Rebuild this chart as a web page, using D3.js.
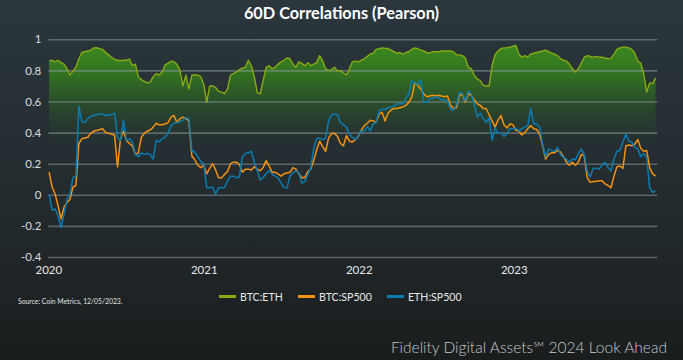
<!DOCTYPE html>
<html><head><meta charset="utf-8">
<script src="https://cdn.jsdelivr.net/npm/d3@7"></script>
<style>
html,body{margin:0;padding:0;background:#20272a;overflow:hidden;}
svg{display:block;}
</style></head><body>
<script>
// ---- data (weekly samples) ----
const startDate = "2020-01-03";
const stepDays = 7;
const domainStart = "2020-01-01";
const domainEnd = "2023-12-05";

const btcEth = [
0.86,0.865,0.855,0.865,0.85,0.84,0.81,0.77,0.795,0.82,
0.875,0.915,0.92,0.925,0.93,0.945,0.946,0.94,0.935,0.915,
0.90,0.885,0.87,0.865,0.862,0.866,0.865,0.873,0.83,0.84,
0.76,0.74,0.73,0.72,0.725,0.76,0.78,0.77,0.79,0.835,
0.845,0.86,0.855,0.84,0.80,0.70,0.77,0.68,0.77,0.77,
0.77,0.76,0.71,0.595,0.70,0.70,0.69,0.665,0.66,0.65,
0.68,0.77,0.78,0.79,0.805,0.815,0.82,0.865,0.83,0.76,
0.655,0.65,0.735,0.82,0.83,0.81,0.82,0.84,0.855,0.865,
0.88,0.875,0.84,0.82,0.855,0.845,0.83,0.85,0.83,0.84,
0.85,0.895,0.86,0.81,0.80,0.805,0.82,0.795,0.80,0.785,
0.77,0.81,0.855,0.86,0.855,0.865,0.875,0.89,0.905,0.91,
0.935,0.94,0.945,0.942,0.94,0.93,0.92,0.91,0.915,0.905,
0.915,0.92,0.935,0.945,0.94,0.93,0.925,0.915,0.91,0.92,
0.92,0.92,0.925,0.925,0.925,0.925,0.92,0.90,0.90,0.895,
0.88,0.82,0.81,0.77,0.745,0.735,0.705,0.70,0.70,0.83,
0.90,0.925,0.94,0.945,0.946,0.95,0.955,0.96,0.905,0.885,
0.895,0.885,0.905,0.91,0.915,0.92,0.925,0.93,0.92,0.91,
0.905,0.895,0.875,0.865,0.86,0.84,0.81,0.79,0.81,0.845,
0.885,0.895,0.89,0.885,0.89,0.885,0.885,0.88,0.875,0.877,
0.905,0.935,0.945,0.95,0.95,0.945,0.935,0.91,0.86,0.845,
0.78,0.66,0.72,0.715,0.75
];

const btcSp500 = [
0.145,0.05,0.005,-0.07,-0.155,-0.08,-0.05,-0.03,0.05,0.06,
0.33,0.36,0.365,0.37,0.395,0.41,0.413,0.42,0.425,0.40,
0.395,0.39,0.385,0.18,0.36,0.41,0.35,0.33,0.315,0.26,
0.27,0.37,0.395,0.41,0.417,0.435,0.46,0.45,0.45,0.455,
0.465,0.50,0.51,0.465,0.49,0.50,0.49,0.475,0.25,0.225,
0.19,0.175,0.19,0.135,0.17,0.20,0.16,0.11,0.11,0.13,
0.15,0.20,0.21,0.21,0.195,0.145,0.165,0.165,0.16,0.18,
0.165,0.155,0.175,0.22,0.185,0.145,0.145,0.135,0.12,0.135,
0.14,0.145,0.175,0.165,0.135,0.11,0.11,0.15,0.165,0.22,
0.29,0.345,0.31,0.28,0.365,0.395,0.395,0.375,0.33,0.315,
0.38,0.345,0.34,0.355,0.375,0.415,0.445,0.46,0.48,0.475,
0.465,0.52,0.53,0.475,0.525,0.545,0.555,0.555,0.56,0.565,
0.575,0.595,0.63,0.72,0.705,0.68,0.65,0.63,0.635,0.64,
0.635,0.64,0.635,0.63,0.635,0.575,0.555,0.56,0.64,0.645,
0.595,0.65,0.64,0.61,0.585,0.575,0.555,0.555,0.515,0.475,
0.435,0.48,0.51,0.45,0.43,0.455,0.45,0.415,0.41,0.385,
0.40,0.425,0.445,0.425,0.42,0.39,0.315,0.23,0.26,0.27,
0.27,0.285,0.275,0.245,0.21,0.19,0.21,0.19,0.21,0.26,
0.25,0.11,0.08,0.085,0.085,0.09,0.09,0.07,0.06,0.045,
0.12,0.18,0.185,0.17,0.315,0.32,0.315,0.325,0.355,0.30,
0.28,0.285,0.175,0.135,0.12
];

const ethSp500 = [
0.005,-0.10,-0.09,-0.135,-0.21,-0.125,-0.03,0.005,0.11,0.12,
0.57,0.47,0.465,0.49,0.505,0.51,0.515,0.52,0.52,0.51,
0.515,0.515,0.525,0.37,0.35,0.48,0.35,0.36,0.34,0.26,
0.245,0.27,0.26,0.265,0.26,0.23,0.35,0.34,0.36,0.37,
0.395,0.445,0.46,0.465,0.47,0.48,0.495,0.49,0.285,0.275,
0.245,0.215,0.20,0.045,0.045,0.05,0.005,0.045,0.045,0.047,
0.09,0.12,0.12,0.11,0.115,0.245,0.265,0.27,0.28,0.21,
0.155,0.095,0.11,0.135,0.155,0.135,0.12,0.11,0.075,0.047,
0.043,0.12,0.14,0.155,0.14,0.075,0.085,0.13,0.17,0.30,
0.36,0.365,0.355,0.365,0.475,0.515,0.52,0.515,0.465,0.45,
0.435,0.39,0.37,0.355,0.38,0.41,0.41,0.44,0.41,0.455,
0.465,0.54,0.55,0.55,0.56,0.565,0.57,0.585,0.585,0.585,
0.62,0.65,0.735,0.72,0.71,0.74,0.595,0.595,0.62,0.62,
0.63,0.625,0.61,0.61,0.605,0.55,0.545,0.575,0.66,0.655,
0.605,0.665,0.65,0.58,0.50,0.525,0.49,0.465,0.495,0.35,
0.43,0.395,0.40,0.375,0.395,0.425,0.425,0.43,0.41,0.425,
0.435,0.445,0.555,0.455,0.455,0.435,0.325,0.245,0.295,0.285,
0.28,0.305,0.26,0.24,0.23,0.21,0.23,0.225,0.265,0.295,
0.26,0.15,0.115,0.17,0.17,0.165,0.19,0.21,0.175,0.155,
0.23,0.28,0.285,0.34,0.39,0.345,0.34,0.305,0.295,0.245,
0.265,0.24,0.047,0.015,0.025
];

const seriesNames = ["BTC:ETH", "BTC:SP500", "ETH:SP500"];
const seriesColors = ["#88aa14", "#f5920f", "#0b7bb0"];
const yTicks = [-0.4, -0.2, 0, 0.2, 0.4, 0.6, 0.8, 1];
const yTickLabels = ["-0.4", "-0.2", "0", "0.2", "0.4", "0.6", "0.8", "1"];
const xTickDates = ["2020-01-01", "2021-01-01", "2022-01-01", "2023-01-01"];
const xTickLabels = ["2020", "2021", "2022", "2023"];
const titleText = "60D Correlations (Pearson)";
const sourceText = "Source: Coin Metrics, 12/05/2023.";
const footerText = "Fidelity Digital Assets\u2120 2024 Look Ahead";

// ---- drawing ----
const W = 683, H = 360;
const FONT = "Lato, 'Open Sans', 'DejaVu Sans', sans-serif";
const parse = d3.timeParse("%Y-%m-%d");
const t0 = parse(startDate);
const dates = btcEth.map((_, i) => d3.timeDay.offset(t0, i * stepDays));

const x = d3.scaleTime().domain([parse(domainStart), parse(domainEnd)]).range([48.3, 657.3]);
const y = d3.scaleLinear().domain([-0.4, 1]).range([257, 39.3]);

const svg = d3.select("body").append("svg").attr("width", W).attr("height", H);
const defs = svg.append("defs");

const bg = defs.append("linearGradient").attr("id", "bg").attr("x1", 0).attr("y1", 0).attr("x2", 0).attr("y2", 1);
bg.append("stop").attr("offset", 0).attr("stop-color", "#2b373d");
bg.append("stop").attr("offset", 0.55).attr("stop-color", "#232b2e");
bg.append("stop").attr("offset", 1).attr("stop-color", "#1a1d1e");
svg.append("rect").attr("width", W).attr("height", H).attr("fill", "url(#bg)");

const ag = defs.append("linearGradient").attr("id", "ag").attr("gradientUnits", "userSpaceOnUse")
  .attr("x1", 0).attr("x2", 0).attr("y1", y(1)).attr("y2", y(0.32));
ag.append("stop").attr("offset", 0).attr("stop-color", "#3d8f1f").attr("stop-opacity", 1);
ag.append("stop").attr("offset", 0.35).attr("stop-color", "#33771f").attr("stop-opacity", 0.9);
ag.append("stop").attr("offset", 0.7).attr("stop-color", "#2b5a26").attr("stop-opacity", 0.45);
ag.append("stop").attr("offset", 1).attr("stop-color", "#26402a").attr("stop-opacity", 0);

// title
svg.append("text").attr("x", W / 2).attr("y", 19).attr("text-anchor", "middle")
  .attr("font-family", FONT).attr("font-weight", 700).attr("font-size", 16.3).attr("fill", "#ffffff")
  .text(titleText);

// area for BTC:ETH
const area = d3.area().x((d, i) => x(dates[i])).y0(y(0.32)).y1(d => y(d)).curve(d3.curveLinear);
svg.append("path").datum(btcEth).attr("d", area).attr("fill", "url(#ag)");

// gridlines + y labels
const yAxis = d3.axisLeft(y).tickValues(yTicks).tickSize(-(x.range()[1] - x.range()[0]))
  .tickFormat((d, i) => yTickLabels[i]).tickPadding(7);
const gy = svg.append("g").attr("transform", `translate(${x.range()[0]},0)`).call(yAxis);
gy.select(".domain").remove();
gy.selectAll(".tick line").attr("stroke", "rgba(150,160,166,0.5)").attr("stroke-width", 1.6);
gy.selectAll(".tick text").attr("font-family", FONT).attr("font-size", 11.5).attr("fill", "#d9dcde");

// x labels
const xAxis = d3.axisBottom(x).tickValues(xTickDates.map(parse)).tickSize(0)
  .tickFormat((d, i) => xTickLabels[i]).tickPadding(0);
const gx = svg.append("g").attr("transform", `translate(0,${266})`).call(xAxis);
gx.select(".domain").remove();
gx.selectAll(".tick text").attr("font-family", FONT).attr("font-size", 11.5).attr("fill", "#e6e8e9").attr("dy", "0.71em");

// lines
const line = d3.line().x((d, i) => x(dates[i])).y(d => y(d));
[[btcEth, 0, 1.4], [btcSp500, 1, 1.5], [ethSp500, 2, 1.5]].forEach(([data, k, w]) => {
  svg.append("path").datum(data).attr("d", line).attr("fill", "none")
    .attr("stroke", seriesColors[k]).attr("stroke-width", w).attr("stroke-linejoin", "round");
});

// legend
const legendX = [219, 298, 387];
const lg = svg.append("g");
seriesNames.forEach((n, k) => {
  lg.append("line").attr("x1", legendX[k]).attr("x2", legendX[k] + 17).attr("y1", 296.5).attr("y2", 296.5)
    .attr("stroke", seriesColors[k]).attr("stroke-width", 3);
  lg.append("text").attr("x", legendX[k] + 21).attr("y", 300.5).attr("font-family", FONT)
    .attr("font-size", 10.6).attr("fill", "#e6e8e9").text(n);
});

// source
svg.append("text").attr("x", 18).attr("y", 304).attr("font-family", FONT).attr("font-size", 6.8)
  .attr("fill", "#e0e2e3").text(sourceText);

// footer
svg.append("text").attr("x", 667).attr("y", 353).attr("text-anchor", "end").attr("font-family", FONT)
  .attr("font-weight", 300).attr("font-size", 15.5).attr("fill", "#c6c8c9").text(footerText);
</script>
</body></html>
